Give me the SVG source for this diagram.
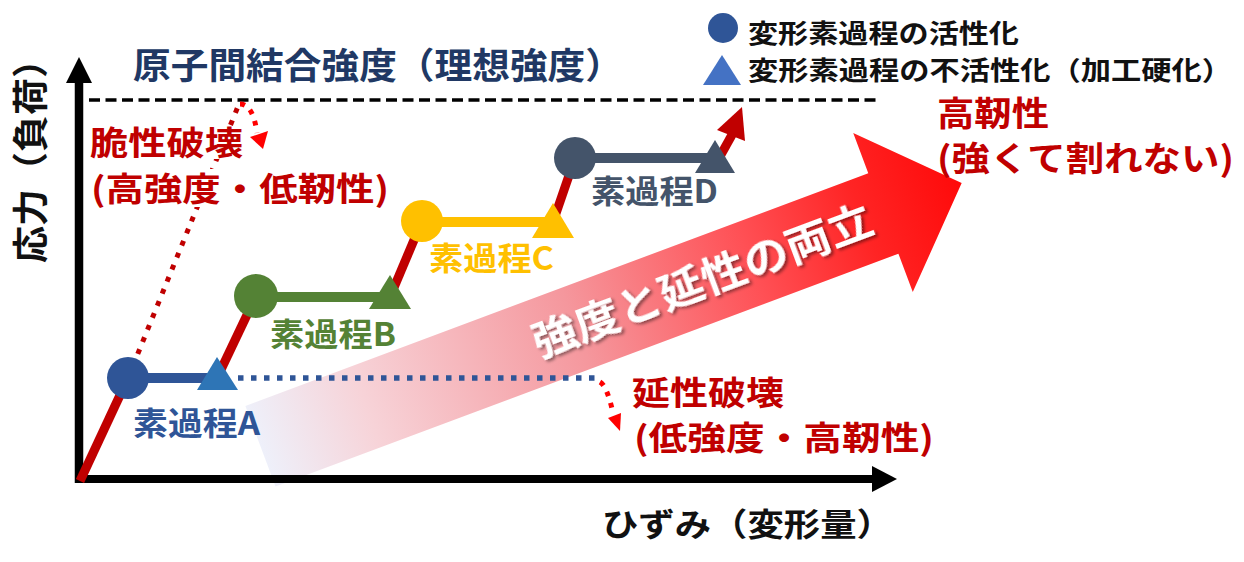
<svg xmlns="http://www.w3.org/2000/svg" width="1244" height="562" viewBox="0 0 1244 562">
<style>
.t{font-family:"Noto Sans CJK JP","Noto Sans CJK SC","Noto Sans",sans-serif;font-weight:700}
.red{fill:#C00000}
.blk{fill:#111111}
.curve{fill:none;stroke:#C00000;stroke-width:9;stroke-linecap:butt}
.bar{stroke-width:10;fill:none}
.dotR{fill:none;stroke:#C00000;stroke-width:5;stroke-dasharray:5 8}
.dotRb{fill:none;stroke:#FF0000;stroke-width:5;stroke-dasharray:5 7}
.dotB{fill:none;stroke:#2F5597;stroke-width:5.5;stroke-dasharray:5.5 7.5}
</style>
<defs>
<linearGradient id="bigGrad" gradientUnits="userSpaceOnUse" x1="-665" y1="0" x2="84" y2="0">
<stop offset="0" stop-color="#EEF0FA"/>
<stop offset="0.15" stop-color="#F7D3D8"/>
<stop offset="0.45" stop-color="#F5979D"/>
<stop offset="0.7" stop-color="#FF5055"/>
<stop offset="0.86" stop-color="#FF2424"/>
<stop offset="1" stop-color="#FF0A0A"/>
</linearGradient>
<filter id="shadow" x="-10%" y="-30%" width="120%" height="160%">
<feDropShadow dx="2" dy="2.5" stdDeviation="1.5" flood-color="#000" flood-opacity="0.45"/>
</filter>
</defs>

<!-- big gradient arrow -->
<g id="big-arrow" transform="translate(883,212.5) rotate(-20.5)">
<polygon points="-665,-42 0,-42 0,-85 84,0 0,85 0,44 -665,44" fill="url(#bigGrad)"/>
<text class="t" x="-193" y="16" font-size="42" fill="#FFFFFF" text-anchor="middle" textLength="360" lengthAdjust="spacingAndGlyphs" filter="url(#shadow)">強度と延性の両立</text>
</g>

<!-- axes -->
<g id="axes">
<line x1="79" y1="483" x2="79" y2="80" stroke="#000" stroke-width="8.5"/>
<polygon points="79,57 66,83 92,83" fill="#000"/>
<line x1="75" y1="479" x2="874" y2="479" stroke="#000" stroke-width="8"/>
<polygon points="897,479 872,466 872,492" fill="#000"/>
</g>

<!-- connectors -->
<g id="connectors">
<line x1="89" y1="100" x2="880" y2="100" stroke="#000" stroke-width="3.5" stroke-dasharray="11 5.5"/>
<line class="dotR" x1="128" y1="378" x2="239" y2="104"/>
<path class="dotRb" d="M240,104 Q253,104 257,133"/>
<polygon points="263,149 250,137 268,131" fill="#FF0000"/>
<line class="dotB" x1="238" y1="378" x2="600" y2="378"/>
<path class="dotRb" d="M600,382 Q607,386 613,413"/>
<polygon points="620,431 608,418 621,413" fill="#FF0000"/>
<path class="curve" d="M80,481 L128,378"/>
<path class="curve" d="M217,378 L256,296"/>
<path class="curve" d="M390,297 L422,221"/>
<path class="curve" d="M553,222 L575,158"/>
<path class="curve" d="M718,160 L733,133"/>
<polygon points="742,107 745,141 717,130" fill="#C00000"/>
</g>

<!-- process A -->
<g id="process-a">
<line class="bar" x1="128" y1="378" x2="217" y2="378" stroke="#2F5597"/>
<circle cx="128" cy="378" r="21" fill="#2F5597"/>
<polygon points="217,357 197,390 238,390" fill="#2E75B6"/>
<text class="t" x="133" y="435" font-size="32" fill="#2F5597" textLength="127" lengthAdjust="spacingAndGlyphs">素過程A</text>
</g>

<!-- process B -->
<g id="process-b">
<line class="bar" x1="256" y1="297" x2="390" y2="297" stroke="#548235"/>
<circle cx="256" cy="296" r="22" fill="#548235"/>
<polygon points="390,275 369,309 411,309" fill="#548235"/>
<text class="t" x="270" y="346" font-size="32" fill="#548235" textLength="126" lengthAdjust="spacingAndGlyphs">素過程B</text>
</g>

<!-- process C -->
<g id="process-c">
<line class="bar" x1="422" y1="222" x2="553" y2="222" stroke="#FFC000"/>
<circle cx="422" cy="221" r="21" fill="#FFC000"/>
<polygon points="553,203 532,238 574,238" fill="#FFC000"/>
<text class="t" x="429" y="270" font-size="32" fill="#FFC000" textLength="125" lengthAdjust="spacingAndGlyphs">素過程C</text>
</g>

<!-- process D -->
<g id="process-d">
<line class="bar" x1="575" y1="158" x2="715" y2="158" stroke="#44546A"/>
<circle cx="575" cy="158" r="21" fill="#44546A"/>
<polygon points="715,140 695,173 735,173" fill="#44546A"/>
<text class="t" x="591" y="203" font-size="32" fill="#44546A" textLength="127" lengthAdjust="spacingAndGlyphs">素過程D</text>
</g>

<!-- titles and labels -->
<g id="title">
<text class="t" x="133" y="79" font-size="36" fill="#203864" textLength="490" lengthAdjust="spacingAndGlyphs">原子間結合強度（理想強度）</text>
</g>
<g id="y-label">
<text class="t blk" transform="translate(44,263) rotate(-90)" font-size="36" textLength="222" lengthAdjust="spacingAndGlyphs">応力（負荷）</text>
</g>
<g id="x-label">
<text class="t blk" x="602" y="536" font-size="32" textLength="291" lengthAdjust="spacingAndGlyphs">ひずみ（変形量）</text>
</g>

<g id="legend">
<circle cx="723" cy="28" r="15" fill="#2F5597"/>
<text class="t blk" x="748" y="43" font-size="26" textLength="271" lengthAdjust="spacingAndGlyphs">変形素過程の活性化</text>
<polygon points="722,55 703,85 741,85" fill="#4472C4"/>
<text class="t blk" x="748" y="80" font-size="26" textLength="484" lengthAdjust="spacingAndGlyphs">変形素過程の不活性化（加工硬化）</text>
</g>

<g id="brittle">
<rect x="89" y="126" width="156" height="33" fill="#FFFFFF"/>
<rect x="89" y="169" width="302" height="38" fill="#FFFFFF"/>
<text class="t red" x="90" y="155" font-size="33" textLength="153" lengthAdjust="spacingAndGlyphs">脆性破壊</text>
<text class="t red" x="91" y="201" font-size="33" textLength="298" lengthAdjust="spacingAndGlyphs">(高強度・低靭性)</text>
</g>

<g id="ductile">
<text class="t red" x="632" y="405" font-size="33" textLength="152" lengthAdjust="spacingAndGlyphs">延性破壊</text>
<text class="t red" x="634" y="450" font-size="33" textLength="300" lengthAdjust="spacingAndGlyphs">(低強度・高靭性)</text>
</g>

<g id="toughness">
<text class="t red" x="937" y="126" font-size="34" textLength="112" lengthAdjust="spacingAndGlyphs">高靭性</text>
<text class="t red" x="937" y="171" font-size="34" textLength="297" lengthAdjust="spacingAndGlyphs">(強くて割れない)</text>
</g>
</svg>
